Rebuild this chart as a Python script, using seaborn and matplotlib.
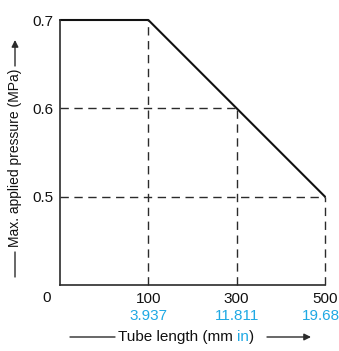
import matplotlib
matplotlib.use("Agg")
import matplotlib.pyplot as plt
import seaborn as sns
import pandas as pd

# chart values
length_mm = [0, 100, 300, 500]
length_in = ["", "3.937", "11.811", "19.685"]
pressure = [0.7, 0.7, 0.6, 0.5]
y_ticks = [0.5, 0.6, 0.7]
y_floor = 0.4

BLUE = "#1fa9e4"
DARK = "#2b2b2b"

sns.set_style("white")
plt.rcParams["font.family"] = ["Liberation Sans", "DejaVu Sans"]

# the x axis is drawn with equal spacing between the listed lengths
df = pd.DataFrame({"pos": range(len(length_mm)), "mm": length_mm, "p": pressure})

fig = plt.figure(figsize=(3.39, 3.51), dpi=100)
ax = fig.add_axes([60 / 339, 66 / 351, 265 / 339, 265 / 351])

sns.lineplot(data=df, x="pos", y="p", color="#111111", linewidth=1.5, ax=ax, clip_on=False)

# dashed guide lines
dash = dict(color=DARK, linewidth=1.0, linestyle=(0, (6, 4)), clip_on=False)
for i, (pos, p) in enumerate(zip(df["pos"], df["p"])):
    if i == 0:
        continue
    ax.plot([pos, pos], [y_floor, p], **dash)
for yv in y_ticks[:-1]:
    pos = df.loc[df["p"] == yv, "pos"].iloc[0]
    ax.plot([0, pos], [yv, yv], **dash)

ax.set_xlim(0, len(length_mm) - 1)
ax.set_ylim(y_floor, max(pressure))

for s in ["top", "right"]:
    ax.spines[s].set_visible(False)
for s in ["left", "bottom"]:
    ax.spines[s].set_color(DARK)
    ax.spines[s].set_linewidth(1.2)

ax.set_xticks(df["pos"][1:])
ax.set_xticklabels([str(v) for v in length_mm[1:]], fontsize=11, color="#111111")
ax.set_yticks(y_ticks)
ax.set_yticklabels([f"{v:.1f}" for v in y_ticks], fontsize=11, color="#111111")
ax.tick_params(axis="both", direction="out", length=3, width=1, color="#555555", pad=2)
ax.set_xlabel("")
ax.set_ylabel("")

# inch values below the mm labels
for pos, lab in zip(df["pos"], length_in):
    if lab:
        ax.text(pos, -0.117, lab, transform=ax.get_xaxis_transform(),
                ha="center", va="center", fontsize=11, color=BLUE)

# origin label
ax.text(-0.05, -0.05, "0", transform=ax.transAxes, ha="center", va="center",
        fontsize=11, color="#111111")

# x axis title: black / blue / black pieces
t1 = fig.text(118 / 339, 1 - 337 / 351, "Tube length (mm ", fontsize=11,
              color="#111111", ha="left", va="center")
t2 = ax.annotate("in", xy=(1, 0), xycoords=t1, ha="left", va="bottom",
                 fontsize=11, color=BLUE)
ax.annotate(")", xy=(1, 0), xycoords=t2, ha="left", va="bottom",
            fontsize=11, color="#111111")

arr = dict(arrowstyle="-|>", color=DARK, lw=1.0, mutation_scale=10, shrinkA=0, shrinkB=0)
seg = dict(arrowstyle="-", color=DARK, lw=1.0, shrinkA=0, shrinkB=0)
ax.annotate("", xy=(115, 351 - 337), xytext=(70, 351 - 337), xycoords="figure pixels",
            arrowprops=seg)
ax.annotate("", xy=(311, 351 - 337), xytext=(267, 351 - 337), xycoords="figure pixels",
            arrowprops=arr)

# y axis title
fig.text(15 / 339, 1 - 158 / 351, "Max. applied pressure (MPa)", rotation=90,
         fontsize=10, color="#111111", ha="center", va="center")
ax.annotate("", xy=(15, 351 - 252), xytext=(15, 351 - 277), xycoords="figure pixels",
            arrowprops=seg)
ax.annotate("", xy=(15, 351 - 40), xytext=(15, 351 - 66), xycoords="figure pixels",
            arrowprops=arr)

plt.savefig("out.png", dpi=100)
